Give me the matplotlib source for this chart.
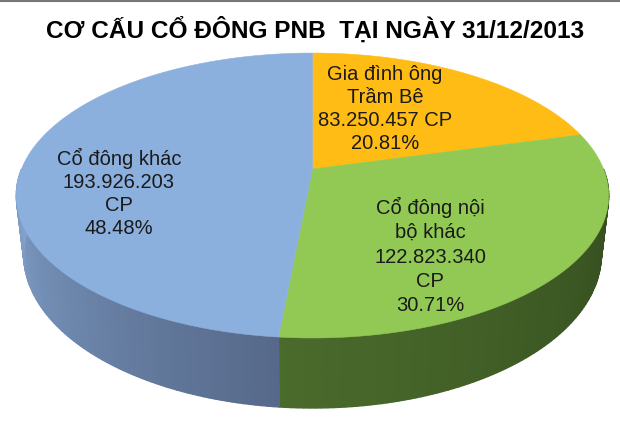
import numpy as np
import matplotlib
matplotlib.use('Agg')
import matplotlib.pyplot as plt
from matplotlib.colors import to_rgb

# du lieu
title = 'CƠ CẤU CỔ ĐÔNG PNB  TẠI NGÀY 31/12/2013'
names = ['Gia đình ông\nTrầm Bê', 'Cổ đông nội\nbộ khác', 'Cổ đông khác']
shares = [83250457, 122823340, 193926203]
share_text = ['83.250.457 CP', '122.823.340\nCP', '193.926.203\nCP']
percents = [20.81, 30.71, 48.48]
top_colors = ['#FFBC15', '#92C954', '#8CB0DE']
side_colors = [('#A07A10', '#A07A10'), ('#4A6B2C', '#324A1D'), ('#56698A', '#84A4CE')]
label_pos = [(385, 109), (430, 256), (119, 193)]
label_spacing = [1.25, 1.36, 1.27]

# phoi canh cua mat tron
cx, R, c, a, b = 312.5, 291, 0.186, -106.1, 169
depth = 57
shrink = 0.975


def project(theta, lower=False):
    u = np.sin(np.radians(theta))
    v = np.cos(np.radians(theta))
    den = 1 + c * v
    r = R * shrink if lower else R
    x = cx + r * u / den
    y = (a * v + b) / den
    if lower:
        y = y + depth / den
    return x, y


fig = plt.figure(figsize=(6.2, 4.26), dpi=100, facecolor='white')
ax = fig.add_axes([0, 0, 1, 1])
ax.set_xlim(0, 620)
ax.set_ylim(426, 0)
ax.axis('off')

total = sum(shares)
edges = np.cumsum([0] + shares) / total * 360

# mat ben: ve tung o nho de co do dam nhat
for i in range(1, 3):
    start = max(edges[i], 90)
    end = min(edges[i + 1], 270)
    c0 = np.array(to_rgb(side_colors[i][0]))
    c1 = np.array(to_rgb(side_colors[i][1]))
    steps = np.linspace(start, end, int(end - start) + 2)
    for j in range(len(steps) - 1):
        # t chay tu mep truoc ra ngoai
        mid = (steps[j] + steps[j + 1]) / 2
        t = (mid - start) / (end - start)
        if i == 1:
            col = c1 + (c0 - c1) * t
        else:
            col = c0 + (c1 - c0) * t
        x1, y1 = project(steps[j])
        x2, y2 = project(steps[j + 1])
        x3, y3 = project(steps[j + 1], True)
        x4, y4 = project(steps[j], True)
        ax.fill([x1, x2, x3, x4], [y1, y2, y3, y4], color=col, lw=1.0)

# mat tren
for i in range(3):
    th = np.linspace(edges[i], edges[i + 1], 200)
    xs, ys = project(th)
    xs = np.concatenate([[cx], xs])
    ys = np.concatenate([[b], ys])
    ax.fill(xs, ys, color=top_colors[i], lw=0.4)

for i in range(3):
    txt = names[i] + '\n' + share_text[i] + '\n' + ('%.2f%%' % percents[i])
    ax.text(label_pos[i][0], label_pos[i][1], txt, ha='center', va='center',
            fontsize=14.5, family='Liberation Sans', color='#1a1a1a', linespacing=label_spacing[i])

ax.text(315, 30, title, ha='center', va='center', fontsize=17.6,
        family='Liberation Sans', fontweight='bold', color='black')
ax.plot([0, 620], [0.5, 0.5], color='#777777', lw=1.5)

fig.savefig('out.png', dpi=100)
